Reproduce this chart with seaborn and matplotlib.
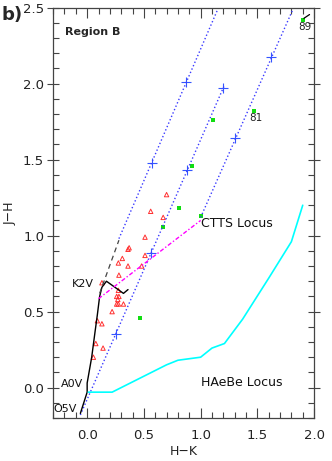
import numpy as np
import pandas as pd
import matplotlib
matplotlib.use("Agg")
import matplotlib.pyplot as plt
import seaborn as sns
from matplotlib.ticker import MultipleLocator

# --- DATA ---
# intrinsic dwarf locus O5V -> K2V -> M dwarfs
dwarf_hk = [-0.06, -0.03, 0.00, 0.00, 0.04, 0.07, 0.09, 0.11, 0.13, 0.17, 0.32, 0.36]
dwarf_jh = [-0.17, -0.10, -0.03, 0.03, 0.20, 0.37, 0.48, 0.60, 0.66, 0.70, 0.62, 0.645]
# giant branch (dashed)
giant_hk = [0.11, 0.28]
giant_jh = [0.62, 0.97]

# reddening vectors (start, end)
redA_hk = [0.28, 1.157]
redA_jh = [0.98, 2.50]
redB_hk = [-0.06, 1.21]
redB_jh = [-0.18, 1.99]
redC_hk = [1.00, 1.82]
redC_jh = [1.12, 2.50]

# A_V marks on the reddening vectors
cross_hk = [0.57, 0.875, 0.25, 0.567, 0.883, 1.20, 1.307, 1.62]
cross_jh = [1.48, 2.01, 0.355, 0.888, 1.43, 1.97, 1.64, 2.175]

# CTTS locus
ctts_hk = [0.10, 1.00]
ctts_jh = [0.585, 1.10]

# HAeBe locus
haebe_hk = [0.01, 0.22, 0.70, 0.80, 1.00, 1.10, 1.21, 1.37, 1.60, 1.80, 1.90]
haebe_jh = [-0.03, -0.03, 0.15, 0.18, 0.20, 0.26, 0.29, 0.45, 0.72, 0.96, 1.20]

# sources: red open triangles
tri_hk = [0.70, 0.56, 0.67, 0.51, 0.37, 0.36, 0.31, 0.275, 0.36, 0.51, 0.48, 0.28, 0.13,
          0.275, 0.26, 0.28, 0.27, 0.275, 0.32, 0.26, 0.22, 0.09, 0.13, 0.076, 0.14, 0.055]
tri_jh = [1.27, 1.16, 1.12, 0.99, 0.92, 0.91, 0.85, 0.82, 0.80, 0.87, 0.80, 0.74, 0.69,
          0.64, 0.60, 0.60, 0.58, 0.55, 0.55, 0.55, 0.50, 0.44, 0.42, 0.29, 0.26, 0.20]
# sources: green dots
grn_hk = [0.47, 0.67, 0.81, 0.92, 1.00, 1.11, 1.47, 1.90]
grn_jh = [0.46, 1.06, 1.18, 1.46, 1.13, 1.76, 1.82, 2.42]
grn_id = ['', '', '', '', '', '', '81', '89']

# --- PLOT ---
sns.set_style("white")
plt.rcParams['font.family'] = ['DejaVu Sans']

fig = plt.figure(figsize=(3.32, 4.61), dpi=100)
ax = fig.add_axes([0.16, 0.0933, 0.786, 0.890])

blue = '#3a3aff'
for hk, jh in [(redA_hk, redA_jh), (redB_hk, redB_jh), (redC_hk, redC_jh)]:
    sns.lineplot(x=hk, y=jh, ax=ax, color=blue, lw=1.0, linestyle=':', sort=False, estimator=None)

sns.lineplot(x=dwarf_hk, y=dwarf_jh, ax=ax, color='black', lw=1.0, sort=False, estimator=None)
sns.lineplot(x=giant_hk, y=giant_jh, ax=ax, color='#444444', lw=0.9, linestyle=(0, (4, 3)),
             sort=False, estimator=None)
sns.lineplot(x=ctts_hk, y=ctts_jh, ax=ax, color='#ff00ff', lw=1.0,
             linestyle=(0, (3, 1.5, 1, 1.5)), sort=False, estimator=None)
sns.lineplot(x=haebe_hk, y=haebe_jh, ax=ax, color='#00ffff', lw=1.2, sort=False, estimator=None)

sns.scatterplot(x=cross_hk, y=cross_jh, ax=ax, marker='+', s=50, color='#3355ff', linewidth=0.8)
sns.scatterplot(x=tri_hk, y=tri_jh, ax=ax, marker='^', s=10, facecolor='none',
                edgecolor='#ff3030', linewidth=0.7)
sns.scatterplot(x=grn_hk, y=grn_jh, ax=ax, marker='s', s=7, color='#11dd11', linewidth=0)

# short black tick on source 89
ax.plot([grn_hk[-1] + 0.01, grn_hk[-1] + 0.06], [grn_jh[-1] + 0.01, grn_jh[-1] + 0.035],
        color='black', lw=0.9)
for hk, jh, lab in zip(grn_hk, grn_jh, grn_id):
    if lab:
        ax.text(hk + 0.02, jh - 0.045, lab, fontsize=7.5, ha='center', va='center', color='#222222')

# labels
ax.text(1.0, 1.08, 'CTTS Locus', fontsize=9, ha='left', va='center', color='#111111')
ax.text(1.0, 0.033, 'HAeBe Locus', fontsize=9, ha='left', va='center', color='#111111')
ax.text(0.055, 0.68, 'K2V', fontsize=8, ha='right', va='center', color='#111111')
ax.text(-0.035, 0.026, 'A0V', fontsize=8, ha='right', va='center', color='#111111')
ax.text(-0.09, -0.143, 'O5V', fontsize=8, ha='right', va='center', color='#111111')
ax.text(0.046, 0.94, 'Region B', transform=ax.transAxes, fontsize=8, fontweight='bold',
        ha='left', va='center')
fig.text(0.006, 0.967, 'b)', fontsize=13, fontweight='bold', ha='left', va='center')

ax.set_xlim(-0.3, 2.0)
ax.set_ylim(-0.2, 2.5)
ax.xaxis.set_major_locator(MultipleLocator(0.5))
ax.xaxis.set_minor_locator(MultipleLocator(0.1))
ax.yaxis.set_major_locator(MultipleLocator(0.5))
ax.yaxis.set_minor_locator(MultipleLocator(0.1))
ax.xaxis.set_major_formatter(plt.FormatStrFormatter('%.1f'))
ax.yaxis.set_major_formatter(plt.FormatStrFormatter('%.1f'))

axc = '#444444'
for sp in ax.spines.values():
    sp.set_color(axc)
    sp.set_linewidth(0.9)
ax.tick_params(axis='x', which='both', direction='in', top=True, bottom=True, colors=axc,
               labelcolor='#222222', labelsize=9.5, pad=8)
ax.tick_params(axis='x', which='major', length=7, width=0.8)
ax.tick_params(axis='x', which='minor', length=4, width=0.8)
ax.tick_params(axis='y', which='both', direction='in', left=True, right=True, colors=axc,
               labelcolor='#222222', labelsize=9.5, pad=2)
ax.tick_params(axis='y', which='major', direction='inout', length=9, width=0.8)
ax.tick_params(axis='y', which='minor', length=4, width=0.8)

ax.set_xlabel('H\u2212K', fontsize=9, color='#222222')
ax.set_ylabel('J\u2212H', fontsize=9, color='#222222')
ax.xaxis.set_label_coords(0.5, -0.066)
ax.yaxis.set_label_coords(-0.14, 0.5)

fig.savefig('out.png', dpi=100)
